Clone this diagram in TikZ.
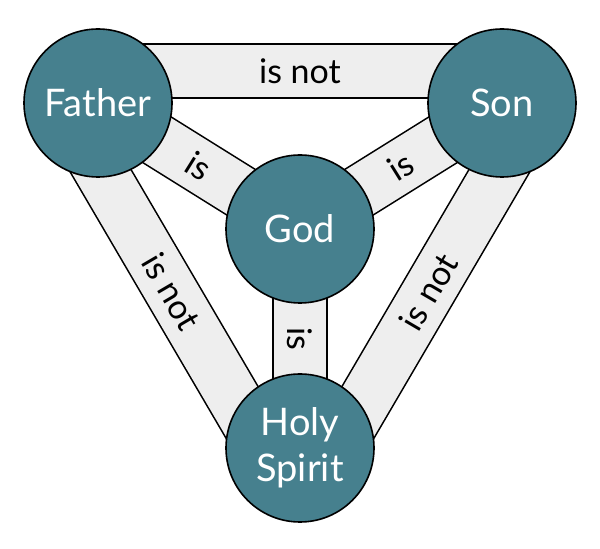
\documentclass[tikz,border=0pt]{standalone}
\usepackage{fontspec}
\setmainfont{Lato}
\usetikzlibrary{calc,backgrounds}
\definecolor{shieldteal}{RGB}{70,128,142}
\definecolor{bandgray}{RGB}{238,238,238}
\begin{document}
\begin{tikzpicture}[x=1pt, y=1pt, ps/.style={circle, draw, line width=1.6pt, fill=shieldteal, text=white, minimum size=148pt, inner sep=0pt, align=center, font=\fontsize{38}{46}\selectfont}, band/.style={draw=black, line width=1.6pt, double=bandgray, double distance=52pt}, lbl/.style={sloped, allow upside down, inner sep=0pt, font=\fontsize{34}{36}\selectfont}]
\useasboundingbox (0,0) rectangle (600,549);
\node[ps] (father) at (98,446) {Father};
\node[ps] (son) at (502,446) {Son};
\node[ps] (god) at (300,320) {God};
\node[ps] (spirit) at (300,101) {Holy\\Spirit};
\begin{pgfonlayer}{background}
\draw[band] ($(father.center)!32pt!90:(son.center)$) -- node[lbl] {is not} ($(son.center)!32pt!-90:(father.center)$);
\draw[band] ($(father.center)!32pt!-90:(spirit.center)$) -- node[lbl] {is not} ($(spirit.center)!32pt!90:(father.center)$);
\draw[band] ($(spirit.center)!32pt!-90:(son.center)$) -- node[lbl] {is not} ($(son.center)!32pt!90:(spirit.center)$);
\draw[band] (father.center) -- node[lbl] {is} (god.center); \draw[band] (god.center) -- node[lbl] {is} (son.center); \draw[band] (god.center) -- node[lbl] {is} (spirit.center);
\end{pgfonlayer}
\end{tikzpicture}
\end{document}
